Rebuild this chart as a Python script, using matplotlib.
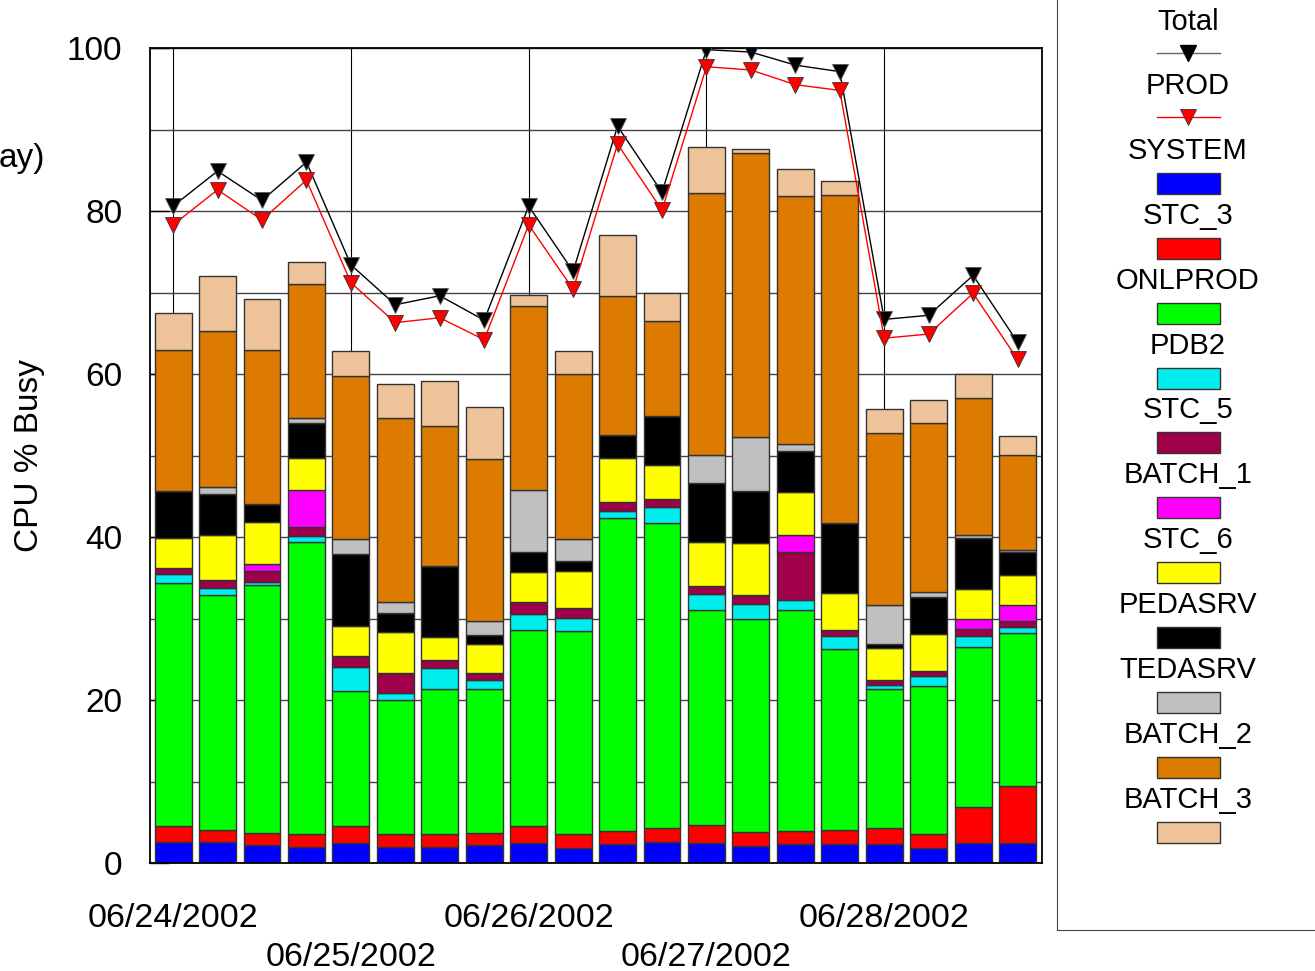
import numpy as np
import matplotlib.pyplot as plt
import matplotlib.transforms as mtransforms
from matplotlib.patches import Rectangle
from matplotlib.lines import Line2D

plt.rcParams['font.family'] = ['Liberation Sans', 'DejaVu Sans']

dates = ['06/24/2002', '06/25/2002', '06/26/2002', '06/27/2002', '06/28/2002']

# segment heights per bar (20 bars, 4 per day)
SYSTEM = [2.6, 2.6, 2.2, 2.0, 2.4, 2.0, 2.0, 2.2, 2.5, 1.8, 2.3, 2.6, 2.5, 2.1, 2.3, 2.3, 2.3, 1.9, 2.4, 2.4]
STC_3 = [2.0, 1.5, 1.5, 1.5, 2.1, 1.5, 1.6, 1.5, 2.1, 1.7, 1.6, 1.7, 2.2, 1.7, 1.6, 1.8, 2.0, 1.6, 4.5, 7.1]
ONLPROD = [29.7, 28.8, 30.4, 35.9, 16.6, 16.5, 17.8, 17.6, 24.0, 25.0, 38.4, 37.4, 26.4, 26.1, 27.2, 22.2, 17.0, 18.2, 19.6, 18.7]
PDB2 = [1.2, 0.8, 0.4, 0.7, 2.9, 0.9, 2.5, 1.1, 2.0, 1.6, 0.9, 2.0, 1.9, 1.9, 1.2, 1.5, 0.5, 1.2, 1.3, 0.7]
STC_5 = [0.7, 1.0, 1.3, 1.1, 1.4, 2.4, 1.0, 0.9, 1.4, 1.2, 1.1, 1.0, 1.0, 1.1, 5.8, 0.8, 0.7, 0.6, 0.9, 0.8]
BATCH_1 = [0, 0, 0.9, 4.6, 0, 0, 0, 0, 0, 0, 0, 0, 0, 0, 2.1, 0, 0, 0, 1.3, 2.0]
STC_6 = [3.7, 5.6, 5.2, 3.9, 3.7, 5.0, 2.8, 3.6, 3.7, 4.5, 5.4, 4.1, 5.4, 6.4, 5.3, 4.5, 3.9, 4.6, 3.6, 3.6]
PEDASRV = [5.7, 5.0, 2.1, 4.3, 8.8, 2.4, 8.8, 1.1, 2.4, 1.2, 2.8, 6.1, 7.2, 6.4, 5.1, 8.6, 0.5, 4.5, 6.3, 2.8]
TEDASRV = [0, 0.8, 0, 0.6, 1.8, 1.3, 0, 1.7, 7.7, 2.8, 0, 0, 3.5, 6.6, 0.8, 0, 4.7, 0.6, 0.4, 0.3]
BATCH_2 = [17.3, 19.2, 19.0, 16.4, 20.1, 22.6, 17.1, 19.9, 22.5, 20.2, 17.1, 11.6, 32.1, 34.8, 30.5, 40.3, 21.2, 20.8, 16.7, 11.7]
BATCH_3 = [4.6, 6.7, 6.2, 2.8, 3.0, 4.2, 5.5, 6.4, 1.4, 2.8, 7.5, 3.4, 5.6, 0.5, 3.3, 1.7, 2.9, 2.8, 3.0, 2.3]

Total = [80.6, 84.9, 81.3, 86.0, 73.4, 68.5, 69.6, 66.6, 80.6, 72.6, 90.4, 82.3, 99.8, 99.5, 97.9, 97.1, 66.7, 67.2, 72.1, 63.9]
PROD = [78.3, 82.6, 78.9, 83.8, 71.2, 66.3, 66.9, 64.2, 78.3, 70.4, 88.2, 80.1, 97.7, 97.3, 95.5, 94.8, 64.4, 64.9, 69.9, 61.8]

names = ['SYSTEM', 'STC_3', 'ONLPROD', 'PDB2', 'STC_5', 'BATCH_1', 'STC_6',
         'PEDASRV', 'TEDASRV', 'BATCH_2', 'BATCH_3']
series = [SYSTEM, STC_3, ONLPROD, PDB2, STC_5, BATCH_1, STC_6, PEDASRV, TEDASRV, BATCH_2, BATCH_3]
colors = ['#0000ff', '#ff0000', '#00ff00', '#00eeee', '#a0004a', '#ff00ff', '#ffff00',
          '#000000', '#c0c0c0', '#dc7b00', '#f0c49a']

fig = plt.figure(figsize=(13.15, 9.71), dpi=100)
ax = fig.add_axes([150/1315, 1-863/971, 892/1315, 815/971])

x = np.arange(len(SYSTEM))
bottom = np.zeros(len(x))
for vals, c in zip(series, colors):
    ax.bar(x, vals, width=0.83, bottom=bottom, color=c, edgecolor='#333333',
           linewidth=1, zorder=2)
    bottom += np.array(vals)

ax.plot(x, Total, color='black', lw=1, marker='v', ms=11, mfc='black',
        mec='#555555', mew=0.6, zorder=4)
ax.plot(x, PROD, color='red', lw=1, marker='v', ms=11, mfc='red',
        mec='#333333', mew=0.6, zorder=4)

ax.set_ylim(0, 100)
ax.set_xlim(-0.52, 19.55)
ax.set_yticks(range(0, 101, 20))
ax.set_yticks(range(10, 100, 20), minor=True)
ax.grid(True, axis='y', which='both', color='#444444', lw=1, zorder=0)
for i in range(0, 20, 4):
    ax.axvline(i, color='black', lw=0.8, zorder=0)

ax.set_xticks(x)
labels = []
for i in x:
    if i % 8 == 0:
        labels.append(dates[i // 4])
    elif i % 4 == 0:
        labels.append('\n' + dates[i // 4])
    else:
        labels.append('')
ax.set_xticklabels(labels, fontsize=24.5, linespacing=1.34)
shift = mtransforms.ScaledTranslation(7/100, 0, fig.dpi_scale_trans)
for lab in ax.get_xticklabels():
    lab.set_transform(lab.get_transform() + shift)
ax.tick_params(axis='x', direction='in', length=16, width=1, pad=29)
ax.tick_params(axis='y', which='major', direction='in', length=14, width=1,
               pad=20, labelsize=24)
ax.tick_params(axis='y', which='minor', length=0)
for s in ax.spines.values():
    s.set_linewidth(1.3)

fig.text(30/1315, 1-455/971, 'CPU % Busy', rotation=90, ha='center', va='center',
         fontsize=24)
fig.text(45/1315, 1-158/971, 'ay)', ha='right', va='center', fontsize=24)

# legend panel
lax = fig.add_axes([1057/1315, 1-930/971, 0.3, 0.3 + 930/971])
lax.set_xlim(1057, 1057 + 0.3*1315)
lax.set_ylim(930, 930 - (0.3 + 930/971)*971)
lax.set_xticks([])
lax.set_yticks([])
for k in ['top', 'right']:
    lax.spines[k].set_visible(False)
lax.spines['left'].set_color('#444444')
lax.spines['bottom'].set_color('#444444')

cx = 1188
lax.text(cx, 22, 'Total', ha='center', va='center', fontsize=21)
lax.add_line(Line2D([1157, 1220], [53, 53], color='#666666', lw=1))
lax.plot([cx], [53], marker='v', ms=11, color='black')
lax.text(cx, 86, 'PROD', ha='center', va='center', fontsize=21)
lax.add_line(Line2D([1157, 1220], [117, 117], color='red', lw=1))
lax.plot([cx], [117], marker='v', ms=11, color='red', mec='#333333', mew=0.6)
for k, (n, c) in enumerate(zip(names, colors)):
    ty = 151 + 64.85 * k
    lax.text(cx, ty, n, ha='center', va='center', fontsize=21)
    lax.add_patch(Rectangle((1157, ty + 22), 63, 21, facecolor=c,
                            edgecolor='#333333', lw=1))

fig.savefig('out.png', dpi=100)
